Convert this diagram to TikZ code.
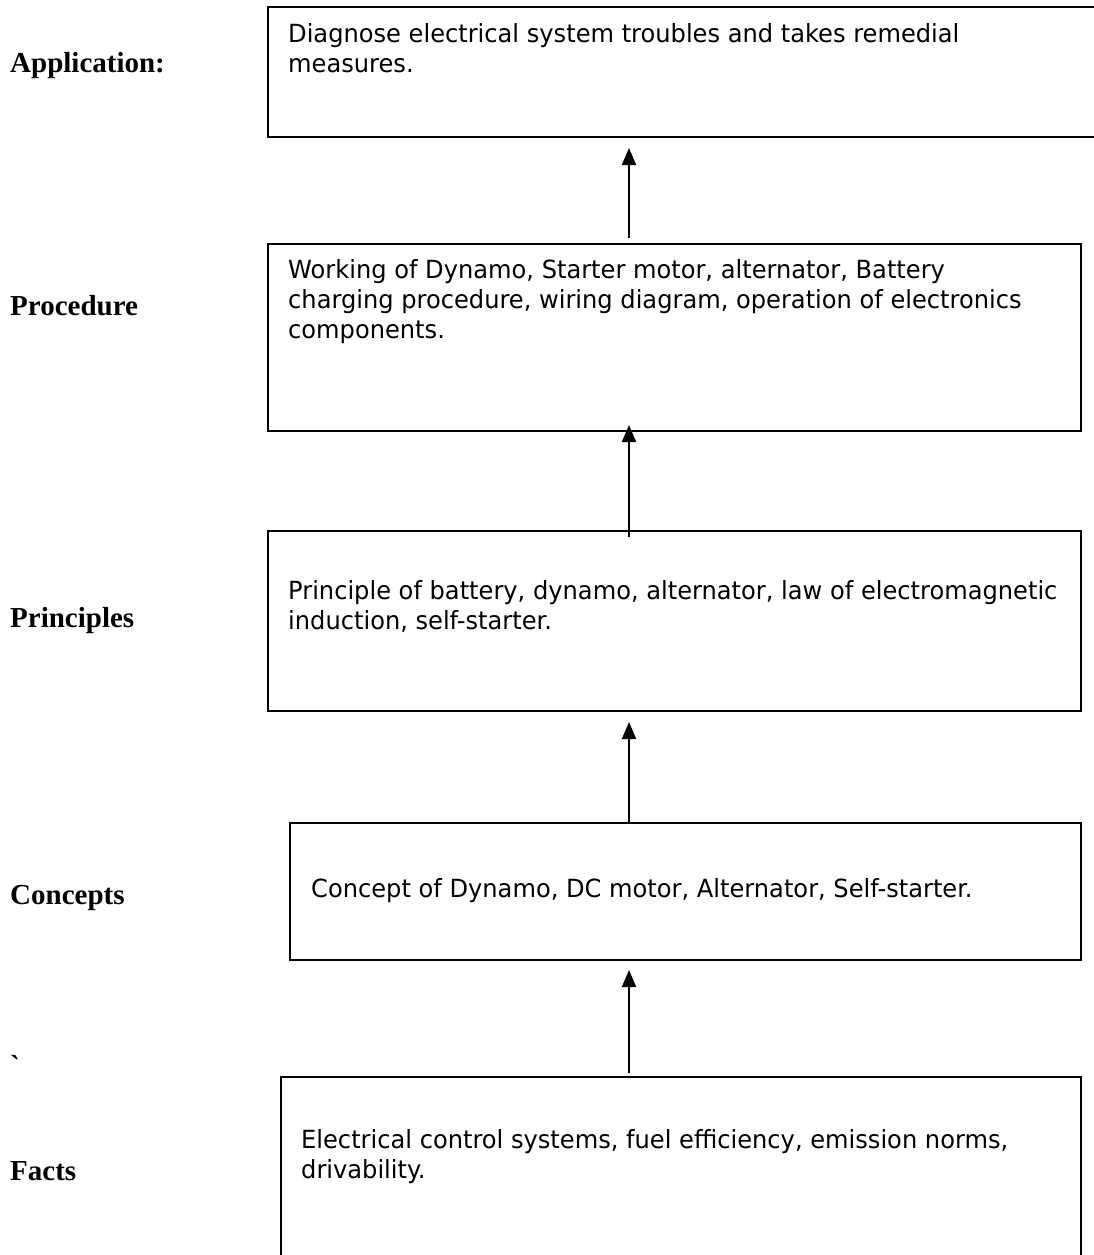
\documentclass[tikz,border=0pt]{standalone}
\usepackage{fontspec}
\newfontfamily\boxfont[FakeStretch=0.965]{DejaVu Sans}
\newfontfamily\tagfont{Liberation Serif}
\usetikzlibrary{arrows.meta,calc}
\begin{document}
\begin{tikzpicture}[x=1pt,y=-1pt,
  level/.style={draw, line width=2pt, inner sep=0pt, outer sep=0pt, anchor=north west},
  body/.style={anchor=north west, inner sep=0pt, align=left,
    font=\boxfont\fontsize{25}{30}\selectfont},
  tag/.style={anchor=base west, inner sep=0pt,
    font=\tagfont\bfseries\fontsize{29}{34}\selectfont},
  up/.style={line width=1.8pt, -{Triangle[width=14pt,length=17pt]}}]

\useasboundingbox (0,0) rectangle (1094,1255);
\coordinate (axis) at (629,0);

% stages, top to bottom
\node[level, minimum width=840pt, minimum height=130pt] (app)   at (268,7)    {};
\node[level, minimum width=813pt, minimum height=187pt] (proc)  at (268,244)  {};
\node[level, minimum width=813pt, minimum height=180pt] (prin)  at (268,531)  {};
\node[level, minimum width=791pt, minimum height=137pt] (conc)  at (290,823)  {};
\node[level, minimum width=800pt, minimum height=220pt] (facts) at (281,1077) {};

% box contents
\node[body] (appt)   at (288,23)   {Diagnose electrical system troubles and takes remedial\\measures.};
\node[body] (proct)  at (288,259)  {Working of Dynamo, Starter motor, alternator, Battery\\charging procedure, wiring diagram, operation of electronics\\components.};
\node[body] (print)  at (288,580)  {Principle of battery, dynamo, alternator, law of electromagnetic\\induction, self-starter.};
\node[body] (conct)  at (311,878)  {Concept of Dynamo, DC motor, Alternator, Self-starter.};
\node[body] (factst) at (301,1129) {Electrical control systems, fuel efficiency, emission norms,\\drivability.};

% level names
\node[tag] (appl)   at (10,73)   {Application:};
\node[tag] (procl)  at (10,315)  {Procedure};
\node[tag] (prinl)  at (10,627)  {Principles};
\node[tag] (concl)  at (10,904)  {Concepts};
\node[tag] (tick)   at (10,1075) {\symbol{96}};
\node[tag] (factsl) at (10,1180) {Facts};

% upward links
\draw[up] ($(facts.north -| axis)+(0,-4)$) -- ($(conc.south -| axis)+(0,10)$);
\draw[up] (conc.north -| axis) -- ($(prin.south -| axis)+(0,11)$);
\draw[up] ($(prin.north -| axis)+(0,6)$) -- ($(proc.south -| axis)+(0,-6)$);
\draw[up] ($(proc.north -| axis)+(0,-6)$) -- ($(app.south -| axis)+(0,11)$);
\end{tikzpicture}
\end{document}
